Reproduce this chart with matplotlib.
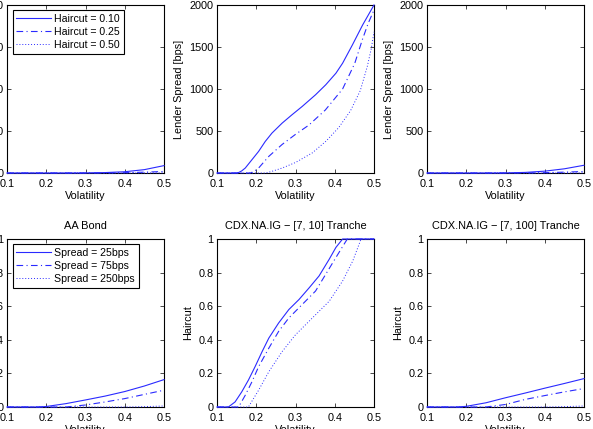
import matplotlib
matplotlib.use("Agg")
import matplotlib.pyplot as plt

plt.rcParams['font.family'] = ['Liberation Sans', 'DejaVu Sans']
plt.rcParams['font.size'] = 7.8

# ---- top row: lender spread [bps] vs volatility, per haircut ----
vol_aa_spread = [0.10, 0.20, 0.25, 0.30, 0.35, 0.40, 0.45, 0.50]
aa_spread_h10 = [0, 0, 0, 1, 5, 15, 40, 88]
aa_spread_h25 = [0, 0, 0, 0, 1, 4, 10, 18]
aa_spread_h50 = [0, 0, 0, 0, 0, 0, 1, 2]

vol_t10_h10 = [0.10, 0.150, 0.155, 0.163, 0.172, 0.189, 0.206, 0.223, 0.240,
               0.266, 0.291, 0.317, 0.351, 0.377, 0.403, 0.420, 0.445, 0.471,
               0.500]
t10_spread_h10 = [0, 0, 5, 25, 59, 158, 257, 376, 475, 594, 693, 792, 931,
                  1050, 1188, 1307, 1525, 1762, 2000]
vol_t10_h25 = [0.10, 0.185, 0.195, 0.206, 0.232, 0.266, 0.300, 0.334, 0.376,
               0.420, 0.451, 0.470, 0.485, 0.500]
t10_spread_h25 = [0, 0, 20, 59, 198, 340, 460, 570, 750, 1000, 1306, 1583,
                  1780, 1940]
vol_t10_h50 = [0.10, 0.225, 0.240, 0.266, 0.300, 0.343, 0.378, 0.410, 0.440,
               0.465, 0.483, 0.493, 0.500]
t10_spread_h50 = [0, 0, 20, 59, 125, 240, 380, 540, 740, 980, 1270, 1480, 1680]

vol_t100_spread = [0.10, 0.20, 0.25, 0.30, 0.35, 0.40, 0.45, 0.50]
t100_spread_h10 = [0, 0, 0, 1, 7, 22, 50, 92]
t100_spread_h25 = [0, 0, 0, 0, 1, 4, 10, 18]
t100_spread_h50 = [0, 0, 0, 0, 0, 0, 1, 2]

# ---- bottom row: haircut vs volatility, per spread ----
vol_aa_h = [0.10, 0.18, 0.20, 0.25, 0.30, 0.35, 0.40, 0.45, 0.50]
aa_haircut_s25 = [0, 0, 0.003, 0.02, 0.042, 0.065, 0.092, 0.125, 0.163]
aa_haircut_s75 = [0, 0, 0, 0, 0.012, 0.03, 0.05, 0.075, 0.10]
aa_haircut_s250 = [0, 0, 0, 0, 0, 0, 0, 0.002, 0.006]

vol_t10_s25 = [0.10, 0.129, 0.146, 0.163, 0.180, 0.197, 0.215, 0.232, 0.257,
               0.283, 0.309, 0.335, 0.360, 0.386, 0.403, 0.420, 0.500]
t10_haircut_s25 = [0, 0, 0.03, 0.09, 0.16, 0.24, 0.33, 0.41, 0.50, 0.58,
                   0.64, 0.71, 0.78, 0.88, 0.95, 1.0, 1.0]
vol_t10_s75 = [0.10, 0.155, 0.172, 0.189, 0.206, 0.232, 0.257, 0.283, 0.317,
               0.351, 0.377, 0.403, 0.424, 0.432, 0.500]
t10_haircut_s75 = [0, 0, 0.07, 0.15, 0.24, 0.35, 0.45, 0.53, 0.61, 0.69,
                   0.79, 0.89, 0.97, 1.0, 1.0]
vol_t10_s250 = [0.10, 0.180, 0.206, 0.232, 0.266, 0.300, 0.343, 0.386, 0.420,
                0.446, 0.467, 0.500]
t10_haircut_s250 = [0, 0, 0.10, 0.21, 0.33, 0.43, 0.53, 0.63, 0.75, 0.87,
                    1.0, 1.0]

vol_t100_h = [0.10, 0.18, 0.20, 0.25, 0.30, 0.35, 0.40, 0.45, 0.50]
t100_haircut_s25 = [0, 0, 0.004, 0.025, 0.055, 0.083, 0.112, 0.14, 0.169]
t100_haircut_s75 = [0, 0, 0, 0, 0.015, 0.045, 0.068, 0.09, 0.11]
t100_haircut_s250 = [0, 0, 0, 0, 0, 0, 0, 0.002, 0.006]

haircut_labels = ['Haircut = 0.10', 'Haircut = 0.25', 'Haircut = 0.50']
spread_labels = ['Spread = 25bps', 'Spread = 75bps', 'Spread = 250bps']
bottom_titles = ['AA Bond', 'CDX.NA.IG \u2212 [7, 10] Tranche',
                 'CDX.NA.IG \u2212 [7, 100] Tranche']

blue = '#2a2aff'
styles = ['-', (0, (6, 3, 1, 3)), (0, (1, 2))]

W, H = 593, 429
fig = plt.figure(figsize=(W / 100, H / 100), dpi=100)

lefts = [7, 217, 427]
tops = [5, 239]
aw, ah = 157, 168

top_data = [
    [(vol_aa_spread, aa_spread_h10), (vol_aa_spread, aa_spread_h25), (vol_aa_spread, aa_spread_h50)],
    [(vol_t10_h10, t10_spread_h10), (vol_t10_h25, t10_spread_h25), (vol_t10_h50, t10_spread_h50)],
    [(vol_t100_spread, t100_spread_h10), (vol_t100_spread, t100_spread_h25), (vol_t100_spread, t100_spread_h50)],
]
bottom_data = [
    [(vol_aa_h, aa_haircut_s25), (vol_aa_h, aa_haircut_s75), (vol_aa_h, aa_haircut_s250)],
    [(vol_t10_s25, t10_haircut_s25), (vol_t10_s75, t10_haircut_s75), (vol_t10_s250, t10_haircut_s250)],
    [(vol_t100_h, t100_haircut_s25), (vol_t100_h, t100_haircut_s75), (vol_t100_h, t100_haircut_s250)],
]


def style_axes(ax):
    ax.set_xlim(0.1, 0.5)
    ax.set_xticks([0.1, 0.2, 0.3, 0.4, 0.5])
    ax.tick_params(direction='in', top=True, right=True, length=3, width=0.5,
                   labelsize=7.8)
    ax.tick_params(axis='x', pad=4)
    ax.tick_params(axis='y', pad=2.5)
    for s in ax.spines.values():
        s.set_linewidth(0.8)
    ax.set_xlabel('Volatility', labelpad=2, fontsize=7.8)


for row in range(2):
    for col in range(3):
        x0 = lefts[col] / W
        y0 = 1 - (tops[row] + ah) / H
        ax = fig.add_axes([x0, y0, aw / W, ah / H])
        data = top_data[col] if row == 0 else bottom_data[col]
        labels = haircut_labels if row == 0 else spread_labels
        for (xs, ys), ls, lab in zip(data, styles, labels):
            lw = 0.8 if ls != styles[2] else 0.7
            ax.plot(xs, ys, color=blue, linestyle=ls, linewidth=lw, label=lab,
                    clip_on=False, zorder=3)
        style_axes(ax)
        if row == 0:
            ax.set_ylim(0, 2000)
            ax.set_yticks([0, 500, 1000, 1500, 2000])
            ax.set_ylabel('Lender Spread [bps]', fontsize=7.8)
        else:
            ax.set_ylim(0, 1)
            ax.set_yticks([0, 0.2, 0.4, 0.6, 0.8, 1])
            ax.set_yticklabels(['0', '0.2', '0.4', '0.6', '0.8', '1'])
            ax.set_ylabel('Haircut', fontsize=7.8)
            ax.set_title(bottom_titles[col], fontsize=7.9, pad=7)
        if col == 0:
            leg = ax.legend(loc='upper left', fancybox=False, framealpha=1,
                            edgecolor='black', fontsize=7.6, handlelength=3.3,
                            handletextpad=0.3, borderpad=0.35, labelspacing=0.3,
                            borderaxespad=0, bbox_to_anchor=(0.036, 0.97))
            leg.get_frame().set_linewidth(0.8)

fig.savefig('out.png', dpi=100)
